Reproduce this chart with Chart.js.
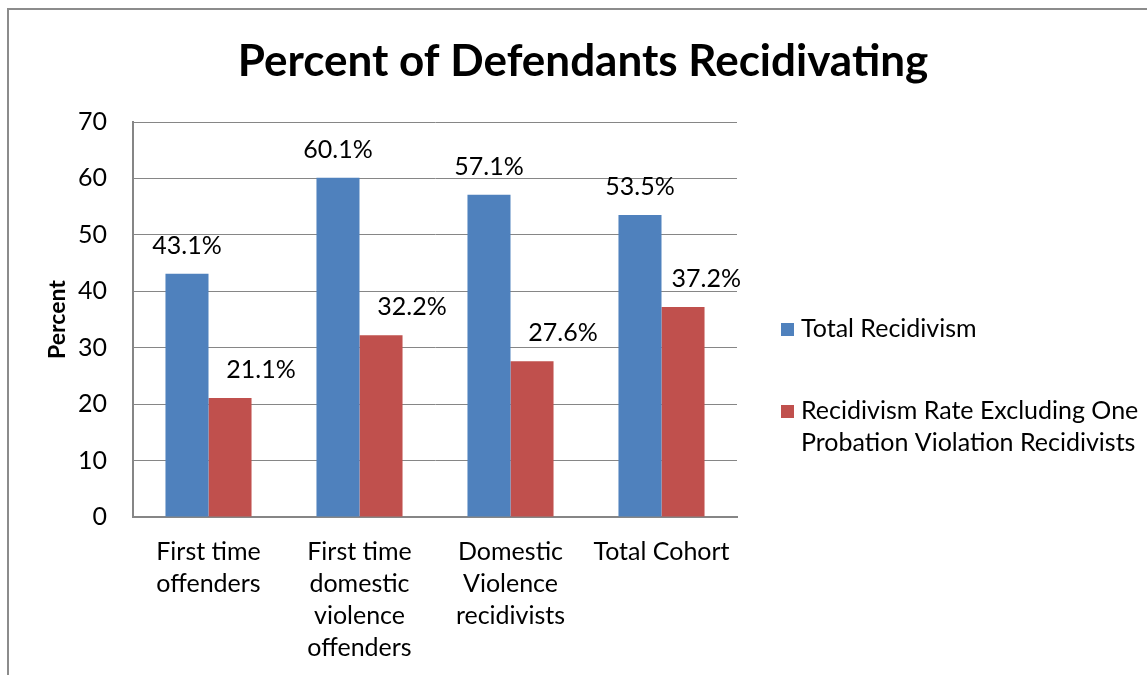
<!DOCTYPE html>
<html>
<head>
<meta charset="utf-8">
<script src="https://cdn.jsdelivr.net/npm/chart.js@4/dist/chart.umd.min.js"></script>
<style>
  html, body { margin: 0; padding: 0; background: #fff; }
  #wrap { position: relative; width: 1147px; height: 675px; }
</style>
</head>
<body>
<div id="wrap"><canvas id="c" width="1147" height="675"></canvas></div>
<script>
// Categories (multi-line axis labels)
const categories = [
  ["First time", "offenders"],
  ["First time", "domestic", "violence", "offenders"],
  ["Domestic", "Violence", "recidivists"],
  ["Total Cohort"]
];
// Series values (percent)
const totalRecidivism = [43.1, 60.1, 57.1, 53.5];
const excludingOneProbation = [21.1, 32.2, 27.6, 37.2];
// Series names (legend lines)
const seriesNames = [
  ["Total Recidivism"],
  ["Recidivism Rate Excluding One", "Probation Violation Recidivists"]
];
// Value axis ticks
const yMin = 0, yMax = 70, yStep = 10;

const FONT = "Lato, 'Open Sans', sans-serif";
const TEXT_SIZE = 25;
const GRID = '#868686';
// Horizontal nudge of the value labels per series
const LABEL_SHIFT = [0, 31];

// Outer frame and title
const framePlugin = {
  id: 'frame',
  beforeDraw(chart) {
    const ctx = chart.ctx;
    ctx.save();
    ctx.fillStyle = '#fff';
    ctx.fillRect(0, 0, chart.width, chart.height);
    ctx.strokeStyle = '#8c8c8c';
    ctx.lineWidth = 2;
    ctx.beginPath();
    ctx.moveTo(8, chart.height);
    ctx.lineTo(8, 9);
    ctx.lineTo(chart.width, 9);
    ctx.stroke();
    ctx.restore();
  },
  afterDraw(chart) {
    const ctx = chart.ctx;
    ctx.save();
    ctx.fillStyle = '#000';
    ctx.font = "bold 44px " + FONT;
    ctx.textAlign = 'center';
    ctx.textBaseline = 'middle';
    ctx.fillText('Percent of Defendants Recidivating', 583, 62);
    ctx.restore();
  }
};

// Value labels above each bar
const valueLabels = {
  id: 'valueLabels',
  afterDatasetsDraw(chart) {
    const ctx = chart.ctx;
    const limit = chart.chartArea.right + 4;
    ctx.save();
    ctx.fillStyle = '#000';
    ctx.font = TEXT_SIZE + "px " + FONT;
    ctx.textAlign = 'center';
    ctx.textBaseline = 'middle';
    chart.data.datasets.forEach((ds, i) => {
      chart.getDatasetMeta(i).data.forEach((bar, j) => {
        const txt = ds.data[j].toFixed(1) + '%';
        const half = ctx.measureText(txt).width / 2;
        const x = Math.min(bar.x + LABEL_SHIFT[i], limit - half);
        ctx.fillText(txt, x, bar.y - 28);
      });
    });
    ctx.restore();
  }
};

// Legend on the right with wrapped names
const sideLegend = {
  id: 'sideLegend',
  afterDraw(chart) {
    const ctx = chart.ctx;
    const x0 = 781, lineH = 32;
    const starts = [329, 411];
    ctx.save();
    ctx.font = TEXT_SIZE + "px " + FONT;
    ctx.textBaseline = 'middle';
    ctx.textAlign = 'left';
    chart.data.datasets.forEach((ds, i) => {
      const y = starts[i];
      ctx.fillStyle = ds.backgroundColor;
      ctx.fillRect(x0, y - 6, 13, 13);
      ctx.fillStyle = '#000';
      seriesNames[i].forEach((line, k) => ctx.fillText(line, x0 + 20, y + k * lineH));
    });
    ctx.restore();
  }
};

new Chart(document.getElementById('c'), {
  type: 'bar',
  data: {
    labels: categories,
    datasets: [
      { label: seriesNames[0].join(' '), data: totalRecidivism, backgroundColor: '#4F81BD',
        barPercentage: 1, categoryPercentage: 0.57 },
      { label: seriesNames[1].join(' '), data: excludingOneProbation, backgroundColor: '#C0504D',
        barPercentage: 1, categoryPercentage: 0.57 }
    ]
  },
  options: {
    responsive: false,
    animation: false,
    devicePixelRatio: 1,
    layout: { padding: { top: 122, left: 0, right: 410, bottom: 0 } },
    plugins: { legend: { display: false }, title: { display: false }, tooltip: { enabled: false } },
    scales: {
      x: {
        grid: { display: false, drawTicks: false },
        border: { color: GRID, width: 2 },
        ticks: { color: '#000', font: { family: FONT, size: TEXT_SIZE, lineHeight: 1.28 }, padding: 19, maxRotation: 0, autoSkip: false },
        afterFit(s) { s.height = 675 - 517; }
      },
      y: {
        min: yMin, max: yMax,
        grid: { color: GRID, lineWidth: 1, drawTicks: false },
        border: { color: GRID, width: 2 },
        ticks: { stepSize: yStep, color: '#000', font: { family: FONT, size: TEXT_SIZE }, padding: 26 },
        title: { display: true, text: 'Percent', color: '#000', font: { family: FONT, size: 23, weight: 'bold' }, padding: { top: 44, bottom: 0 } },
        afterFit(s) { s.width = 133; }
      }
    }
  },
  plugins: [framePlugin, valueLabels, sideLegend]
});
</script>
</body>
</html>
